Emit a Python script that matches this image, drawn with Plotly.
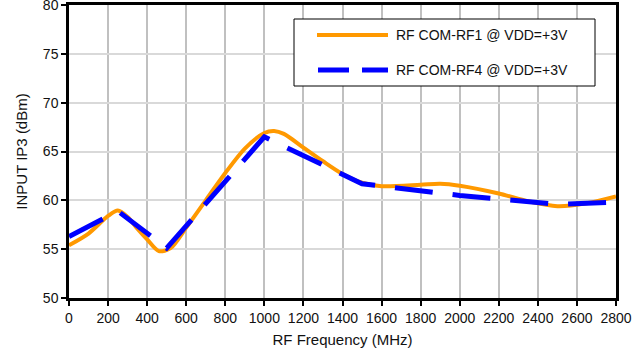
import plotly.graph_objects as go

# RF COM-RF1 (smoothed curve)
freq_rf1 = [0, 100, 200, 250, 300, 350, 400, 460, 520, 600, 700, 800, 900, 1000, 1050,
            1100, 1200, 1300, 1400, 1500, 1600, 1800, 1900, 2000, 2200, 2350, 2500, 2650, 2800]
rf1 = [55.4, 56.6, 58.4, 58.95, 58.3, 57.1, 56.0, 54.8, 55.1, 57.2, 60.0, 62.8, 65.3, 66.9, 67.1,
       66.8, 65.4, 64.0, 62.7, 61.8, 61.45, 61.6, 61.7, 61.5, 60.7, 59.9, 59.4, 59.7, 60.4]

# RF COM-RF4 (straight segments)
freq_rf4 = [0, 250, 500, 1000, 1500, 2000, 2500, 2800]
rf4 = [56.3, 58.9, 55.1, 66.5, 61.7, 60.5, 59.6, 59.8]

names = ["RF COM-RF1 @ VDD=+3V", "RF COM-RF4 @ VDD=+3V"]
x_ticks = list(range(0, 2801, 200))
y_ticks = list(range(50, 81, 5))

FONT = "Liberation Sans, Arial, sans-serif"
ORANGE = "#FF9900"
BLUE = "#0000FF"
TXT = "#111111"

fig = go.Figure()
fig.add_trace(go.Scatter(x=freq_rf1, y=rf1, mode="lines", name=names[0],
                         line=dict(color=ORANGE, width=4, shape="spline", smoothing=0.8),
                         showlegend=False))
fig.add_trace(go.Scatter(x=freq_rf4, y=rf4, mode="lines", name=names[1],
                         line=dict(color=BLUE, width=5, dash="38px,20px"),
                         showlegend=False))

L, R, T, B = 69, 21, 5, 62
W, H = 637, 360
pw, ph = W - L - R, H - T - B

def px(x):
    return (x - L) / pw

def py(y):
    return (H - B - y) / ph

shapes = [
    dict(type="rect", xref="paper", yref="paper", x0=px(294), x1=px(595), y0=py(86), y1=py(19),
         line=dict(color="black", width=1), fillcolor="white", layer="above"),
    dict(type="line", xref="paper", yref="paper", x0=px(317), x1=px(388), y0=py(35), y1=py(35),
         line=dict(color=ORANGE, width=4), layer="above"),
    dict(type="line", xref="paper", yref="paper", x0=px(318), x1=px(388), y0=py(70), y1=py(70),
         line=dict(color=BLUE, width=5, dash="31px,13px"), layer="above"),
]
annotations = [
    dict(xref="paper", yref="paper", x=px(394), y=py(35), text=names[0], showarrow=False,
         xanchor="left", yanchor="middle", font=dict(family=FONT, size=14, color=TXT)),
    dict(xref="paper", yref="paper", x=px(394), y=py(70), text=names[1], showarrow=False,
         xanchor="left", yanchor="middle", font=dict(family=FONT, size=14, color=TXT)),
]

fig.update_layout(
    width=W, height=H,
    margin=dict(l=L, r=R, t=T, b=B, autoexpand=False),
    paper_bgcolor="white", plot_bgcolor="white",
    font=dict(family=FONT, size=14, color=TXT),
    shapes=shapes, annotations=annotations,
    showlegend=False,
)
fig.update_xaxes(range=[0, 2800], tickvals=x_ticks, ticktext=[str(v) for v in x_ticks],
                 showgrid=True, gridcolor="#C0C0C0", gridwidth=2,
                 showline=True, linecolor="black", linewidth=2.5, mirror=True,
                 ticks="outside", ticklen=5, tickwidth=1.5, tickcolor="black",
                 zeroline=False, automargin=False, tickfont=dict(size=14),
                 ticklabeloverflow="allow",
                 title=dict(text="RF Frequency (MHz)", font=dict(family=FONT, size=15), standoff=10))
fig.update_yaxes(range=[50, 80], tickvals=y_ticks, ticktext=[str(v) for v in y_ticks],
                 showgrid=True, gridcolor="#D9D9D9", gridwidth=1.5,
                 showline=True, linecolor="black", linewidth=2.5, mirror=True,
                 ticks="outside", ticklen=5, tickwidth=1.5, tickcolor="black",
                 zeroline=False, automargin=False, tickfont=dict(size=14),
                 ticklabeloverflow="allow",
                 title=dict(text="INPUT IP3 (dBm)", font=dict(family=FONT, size=15), standoff=12))

fig.write_html("out.html", config={"displayModeBar": False},
               post_script="document.body.style.margin='0';document.body.style.padding='0';")
